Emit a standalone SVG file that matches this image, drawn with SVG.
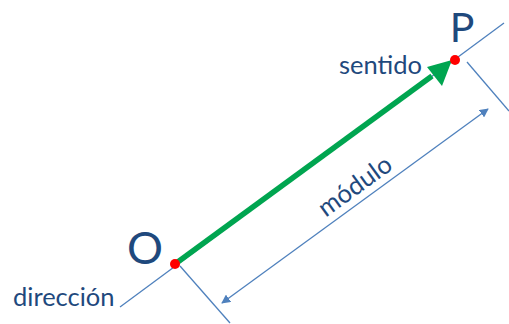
<svg xmlns="http://www.w3.org/2000/svg" width="509" height="324" viewBox="0 0 509 324">
<style>
.ln{stroke:#4F81BD;stroke-width:1.3;fill:none}
.t{font-family:Lato,"Liberation Sans",sans-serif;fill:#1F497D}
</style>
<defs>
<marker id="ab" viewBox="0 0 10 10" refX="9" refY="5" markerWidth="9" markerHeight="9" markerUnits="userSpaceOnUse" orient="auto-start-reverse"><path d="M0,0 L10,5 L0,10 z" fill="#4F81BD"/></marker>
</defs>
<g id="connectors">
<line class="ln" x1="120" y1="307" x2="504" y2="23"/>
<line class="ln" x1="180" y1="266" x2="230" y2="323"/>
<line class="ln" x1="467" y1="62" x2="509" y2="111"/>
<line class="ln" x1="222" y1="303" x2="488" y2="109" marker-start="url(#ab)" marker-end="url(#ab)"/>
<line x1="175" y1="264" x2="432" y2="76" stroke="#00A550" stroke-width="5.5"/>
<path d="M452,60 L427,67 L442,86 z" fill="#00A550"/>
</g>
<g id="O"><circle cx="175" cy="264" r="5" fill="#FF0000"/><text class="t" x="145" y="264" font-size="45" text-anchor="middle">O</text></g>
<g id="P"><circle cx="455" cy="60" r="5" fill="#FF0000"/><text class="t" x="462" y="42" font-size="41" text-anchor="middle">P</text></g>
<g id="sentido"><text class="t" x="339" y="74" font-size="25.5">sentido</text></g>
<g id="direccion"><text class="t" x="13" y="306" font-size="25.5">dirección</text></g>
<g id="modulo"><text class="t" font-size="25.5" text-anchor="middle" transform="translate(360,193) rotate(-36)">módulo</text></g>
</svg>
